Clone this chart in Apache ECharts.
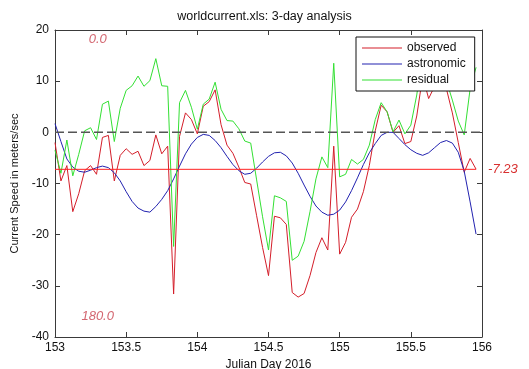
<!DOCTYPE html>
<html>
<head>
<meta charset="utf-8">
<script src="https://cdn.jsdelivr.net/npm/echarts@6/dist/echarts.min.js"></script>
<style>html,body{margin:0;padding:0;background:#fff;overflow:hidden}#c{width:529px;height:369px}</style>
</head>
<body>
<div id="c"></div>
<script>
// Hourly samples starting at Julian day 153
const startDay = 153;
const stepDay = 1 / 24;
const observed = [-2, -9.5, -6.5, -15.5, -12, -7.5, -6.5, -8.2, -1, -0.6,
  -9.5, -4.5, -3.2, -4.3, -3.7, -6.5, -5.5, -0.5, -4.2, -2.7,
  -31.6, -0.8, 3.8, 2.5, -0.3, 5.1, 6, 8.3, 1.5, -2.5,
  -4.1, -6.8, -9.8, -10.1, -16.3, -22.5, -28, -16.4, -16.7, -18,
  -31.3, -32.2, -31.5, -28, -23.5, -20.6, -23, -2.7, -23.8, -21.5,
  -16.6, -15, -11.6, -6.5, 0.3, 5.3, 4, 0, 1.3, -2.2,
  -1.8, 3.2, 11, 6.6, 9, 11.5, 8.5, 3.8, -2, -7.8, -5.1, -7.2];
const astronomic = [1.7, -1.8, -5.2, -6.8, -7.6, -7.8, -7.4, -6.9, -6.6, -6.9,
  -7.9, -9.5, -11.6, -13.5, -14.8, -15.4, -15.6, -14.5, -13.1, -11.4,
  -9.1, -6.6, -4.2, -2.3, -1.0, -0.4, -0.6, -1.6, -3.0, -4.7,
  -6.3, -7.5, -8.2, -8.0, -7.0, -5.8, -4.7, -4.0, -3.9, -4.6,
  -6.0, -8.0, -10.3, -12.5, -14.4, -15.6, -16.2, -16.0, -15.2, -13.6,
  -11.4, -8.9, -6.3, -4.0, -2.2, -0.6, 0.0, 0.0, -1.2, -2.4,
  -3.4, -4.1, -4.5, -4.0, -3.0, -2.0, -1.6, -2.1, -3.9, -7.6, -13.6, -19.9];
const residual = [-3.5, -8, -1.5, -8.5, -4.3, 0.3, 0.9, -1.4, 5.5, 6.1,
  -1.8, 4.7, 8.2, 9.1, 11, 9, 10.1, 14.4, 9.1, 9.0,
  -22.3, 5.8, 8.2, 4.9, 0.6, 5.5, 6.5, 9.8, 4.5, 2.3,
  2.2, 0.7, -1.7, -2.1, -9.3, -16.5, -23, -12.4, -12.8, -13.5,
  -25, -24.2, -21.3, -15.5, -9.1, -4.8, -6.9, 13.5, -8.7, -8.2,
  -5.3, -6.2, -5.3, -2.5, 2.5, 5.8, 4, 0.1, 2.4, -0.3,
  1.4, 7.3, 15.5, 10.6, 12, 13.5, 10.1, 6.3, 2.2, -0.5, 8.5, 12.7];
const meanValue = -7.23;
const seriesNames = ['observed', 'astronomic', 'residual'];
const xTicks = {min: 153, max: 156, interval: 0.5};
const yTicks = {min: -40, max: 20, interval: 10};
const annotations = [[153.3, 18.1, '0.0'], [153.3, -35.9, '180.0']];

const days = observed.map((_, i) => startDay + i * stepDay);
const pairs = arr => arr.map((v, i) => [days[i], v]);
const lastDay = days[days.length - 1];

const FONT = '"Liberation Sans", Arial, sans-serif';
const axisCol = '#3a3a3a';
const chart = echarts.init(document.getElementById('c'), null, {renderer: 'canvas', width: 529, height: 369});

const baseX = {
  type: 'value', min: xTicks.min, max: xTicks.max, interval: xTicks.interval,
  axisLine: {show: true, onZero: false, lineStyle: {color: axisCol, width: 1}},
  axisTick: {show: true, inside: true, length: 5, lineStyle: {color: axisCol}},
  splitLine: {show: false}
};
const baseY = {
  type: 'value', min: yTicks.min, max: yTicks.max, interval: yTicks.interval,
  axisLine: {show: true, onZero: false, lineStyle: {color: axisCol, width: 1}},
  axisTick: {show: true, inside: true, length: 5, lineStyle: {color: axisCol}},
  splitLine: {show: false}
};

chart.setOption({
  animation: false,
  backgroundColor: '#fff',
  title: {
    text: 'worldcurrent.xls: 3-day analysis', left: 'center', top: 10, padding: 0,
    textStyle: {fontFamily: FONT, fontSize: 12.5, fontWeight: 'normal', color: '#111'}
  },
  grid: {left: 55, right: 47, top: 30, bottom: 32, containLabel: false, outerBoundsMode: 'none'},
  legend: {
    orient: 'vertical', left: 356, top: 37, data: seriesNames,
    icon: 'rect', itemWidth: 40, itemHeight: 1, itemGap: 2,
    padding: [4, 9, 4, 6],
    backgroundColor: '#fff', borderColor: '#111', borderWidth: 1, borderRadius: 0,
    textStyle: {fontFamily: FONT, fontSize: 12, color: '#111', lineHeight: 14},
    z: 10
  },
  xAxis: [
    Object.assign({}, baseX, {
      position: 'bottom', name: 'Julian Day 2016', nameLocation: 'middle', nameGap: 19,
      nameTextStyle: {fontFamily: FONT, fontSize: 12, color: '#111'},
      axisLabel: {fontFamily: FONT, fontSize: 12, color: '#111', margin: 5}
    }),
    Object.assign({}, baseX, {position: 'top', axisLabel: {show: false}})
  ],
  yAxis: [
    Object.assign({}, baseY, {
      position: 'left', name: 'Current Speed in meters/sec', nameLocation: 'middle', nameGap: 31,
      nameTextStyle: {fontFamily: FONT, fontSize: 11, color: '#111'},
      axisLabel: {fontFamily: FONT, fontSize: 12, color: '#111', margin: 6}
    }),
    Object.assign({}, baseY, {position: 'right', axisLabel: {show: false}})
  ],
  series: [
    {name: 'observed', type: 'line', data: pairs(observed), showSymbol: false, symbol: 'none',
      lineStyle: {color: '#d41e2a', width: 1}, itemStyle: {color: '#d41e2a'}, z: 2},
    {name: 'astronomic', type: 'line', data: pairs(astronomic), showSymbol: false, symbol: 'none',
      lineStyle: {color: '#2222b0', width: 1}, itemStyle: {color: '#2222b0'}, z: 2},
    {name: 'residual', type: 'line', data: pairs(residual), showSymbol: false, symbol: 'none',
      lineStyle: {color: '#33e033', width: 1}, itemStyle: {color: '#33e033'}, z: 2},
    {name: 'zero', type: 'line', data: [[xTicks.min, 0], [xTicks.max, 0]], symbol: 'none', silent: true,
      lineStyle: {color: '#555', width: 1.5, type: [9, 4]}, z: 3},
    {name: 'mean', type: 'line', data: [[startDay, meanValue], [lastDay, meanValue]], symbol: 'none', silent: true,
      lineStyle: {color: '#ff2020', width: 1}, z: 3,
      endLabel: {show: true, distance: 12, formatter: p => String(p.value[1]),
        fontFamily: FONT, fontSize: 13, fontStyle: 'italic', color: '#d83030'}},
    {name: 'notes', type: 'scatter', data: annotations, symbolSize: 0, silent: true,
      label: {show: true, position: 'inside', formatter: p => p.value[2],
        fontFamily: FONT, fontSize: 13, fontStyle: 'italic', color: '#c8404c'}, z: 5}
  ]
});
</script>
</body>
</html>
